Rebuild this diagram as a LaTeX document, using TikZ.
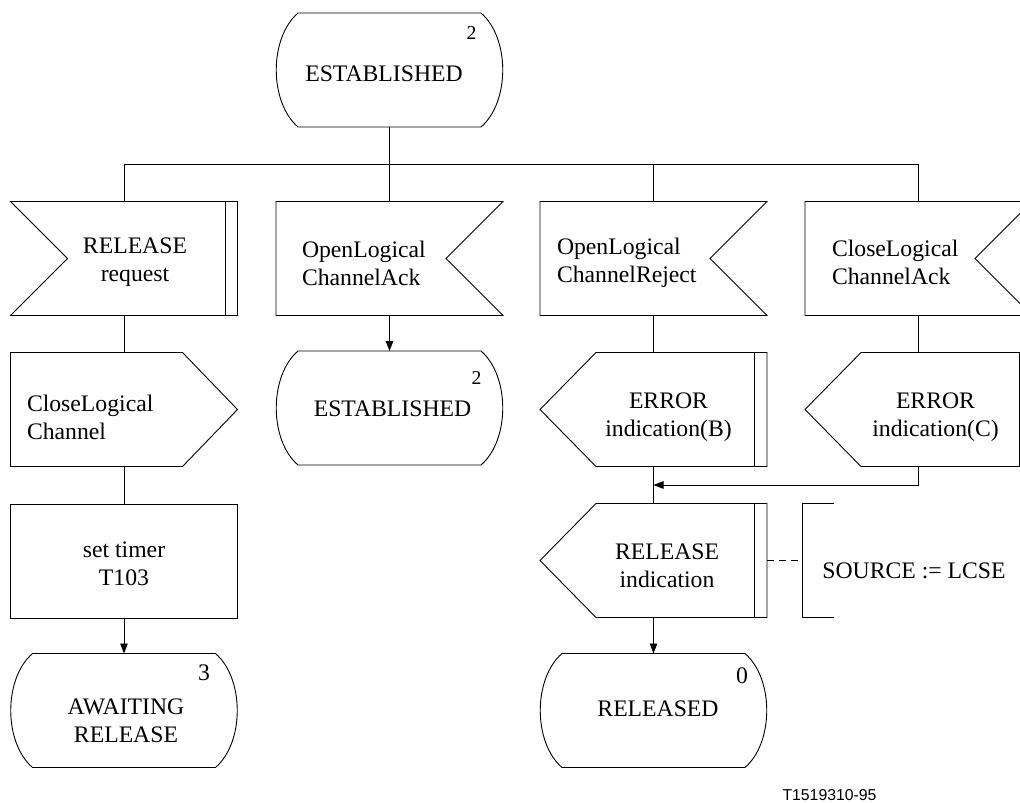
\documentclass[tikz,border=0pt]{standalone}
\usepackage{fontspec}
\setmainfont{Liberation Serif}
\newfontfamily\footfont{Liberation Sans}
\usetikzlibrary{arrows.meta}
\newcommand\mainsz{\fontsize{23.7}{28}\selectfont}
% centred text block, shifted right by #1 and down by #2
\newcommand\ctext[3]{\makebox[0pt]{\hspace*{#1pt}\hspace*{#1pt}\raisebox{-#2pt}[\height][\depth]{\begin{tabular}{@{}c@{}}#3\end{tabular}}}}
% left aligned text block starting #1 from the node centre, shifted down by #2
\newcommand\ltext[3]{\makebox[0pt][l]{\hspace*{#1pt}\raisebox{-#2pt}[\height][\depth]{\begin{tabular}{@{}l@{}}#3\end{tabular}}}}
% outlines drawn from the anchors of a named node
\newcommand\shpState[1]{\draw ([xshift=22pt]#1.north west) -- ([xshift=-22pt]#1.north east)
  .. controls ([xshift=7pt,yshift=-25pt]#1.north east) and ([xshift=7pt,yshift=25pt]#1.south east) .. ([xshift=-22pt]#1.south east)
  -- ([xshift=22pt]#1.south west)
  .. controls ([xshift=-7pt,yshift=25pt]#1.south west) and ([xshift=-7pt,yshift=-25pt]#1.north west) .. cycle;}
\newcommand\shpInL[1]{\draw (#1.north west) -- (#1.north east) -- (#1.south east) -- (#1.south west) -- ([xshift=57pt]#1.west) -- cycle;}
\newcommand\shpInR[1]{\draw (#1.north west) -- (#1.north east) -- ([xshift=-57pt]#1.east) -- (#1.south east) -- (#1.south west) -- cycle;}
\newcommand\shpOutR[1]{\draw (#1.north west) -- ([xshift=-55pt]#1.north east) -- (#1.east) -- ([xshift=-55pt]#1.south east) -- (#1.south west) -- cycle;}
\newcommand\shpOutL[1]{\draw (#1.west) -- ([xshift=56pt]#1.north west) -- (#1.north east) -- (#1.south east) -- ([xshift=56pt]#1.south west) -- cycle;}
\newcommand\shpBar[1]{\draw ([xshift=-12.5pt]#1.north east) -- ([xshift=-12.5pt]#1.south east);}
\newcommand\shpNote[1]{\draw ([xshift=32pt]#1.north west) -- (#1.north west) -- (#1.south west) -- ([xshift=32pt]#1.south west);}
\tikzset{
  base/.style={minimum width=227pt, minimum height=114pt, inner sep=0pt, outer sep=0pt, font=\mainsz},
  taskbox/.style={base, draw},
  notebox/.style={base, minimum width=224pt},
  num/.style={inner sep=0pt, font=\mainsz},
  smallnum/.style={inner sep=0pt, font=\fontsize{19.7}{24}\selectfont},
  arr/.style={-{Triangle[length=10pt,width=7.5pt]}},
  dsh/.style={dash pattern=on 7pt off 5pt},
}
\begin{document}
\begin{tikzpicture}[x=1pt, y=-1pt, line width=0.9pt, line join=miter]
\useasboundingbox (0,0) rectangle (1020,803);
\clip (0,0) rectangle (1020,803);
% nodes
\node[base] (est1) at (389.5,70) {\ctext{-5.5}{5.4}{ESTABLISHED}};
\node[base] (rr) at (124,258.5) {\ctext{11}{3}{RELEASE\\request}};
\node[base] (oca) at (389.5,258.5) {\ltext{-87.5}{7}{OpenLogical\\ChannelAck}};
\node[base] (ocr) at (653.5,258.5) {\ltext{-96.5}{4}{OpenLogical\\ChannelReject}};
\node[base] (clca) at (918.5,258.5) {\ltext{-86.5}{6}{CloseLogical\\ChannelAck}};
\node[base] (clc) at (124,409.5) {\ltext{-97}{10}{CloseLogical\\Channel}};
\node[base] (est2) at (389.5,408) {\ctext{3}{2.6}{ESTABLISHED}};
\node[base] (errB) at (653.5,409.5) {\ctext{15}{7}{ERROR\\indication(B)}};
\node[base] (errC) at (918.5,409.5) {\ctext{17}{7}{ERROR\\indication(C)}};
\node[taskbox] (timer) at (124,561) {\ctext{0}{4.5}{set timer\\T103}};
\node[base] (relind) at (653.5,560.5) {\ctext{13.5}{7}{RELEASE\\indication}};
\node[notebox] (note) at (914,560.5) {\ctext{0}{12}{SOURCE := LCSE}};
\node[base] (await) at (124,710.5) {\ctext{2}{12}{AWAITING\\RELEASE}};
\node[base] (released) at (653.5,710.5) {\ctext{4.5}{0}{RELEASED}};
% state numbers
\node[smallnum] (n1) at (471.5,33.3) {2};
\node[smallnum] (n2) at (476.5,378.3) {2};
\node[num] (n3) at (204,673) {3};
\node[num] (n4) at (742,676) {0};
% footer
\node[inner sep=0pt, font=\footfont\fontsize{15.8}{18}\selectfont] (foot) at (829.5,795) {T1519310-95};
% outlines
\shpState{est1}
\shpInL{rr}\shpBar{rr}
\shpInR{oca}
\shpInR{ocr}
\shpInR{clca}
\shpOutR{clc}
\shpState{est2}
\shpOutL{errB}\shpBar{errB}
\shpOutL{errC}\shpBar{errC}
\shpOutL{relind}\shpBar{relind}
\shpNote{note}
\shpState{await}
\shpState{released}
% connectors
\coordinate (bus) at (389.5,164);
\coordinate (join) at (653.5,485);
\draw (est1.south) -- (oca.north);
\draw (rr.north) -- (rr.north |- bus) -- (clca.north |- bus) -- (clca.north);
\draw (ocr.north) -- (ocr.north |- bus);
\draw (rr.south) -- (clc.north);
\draw (clc.south) -- (timer.north);
\draw[arr] (timer.south) -- (await.north);
\draw[arr] (oca.south) -- (est2.north);
\draw (ocr.south) -- (errB.north);
\draw (clca.south) -- (errC.north);
\draw (errB.south) -- (relind.north);
\draw[arr] (errC.south) |- (join);
\draw[arr] (relind.south) -- (released.north);
\draw[dsh] (relind.east) -- (note.west);
\end{tikzpicture}
\end{document}
